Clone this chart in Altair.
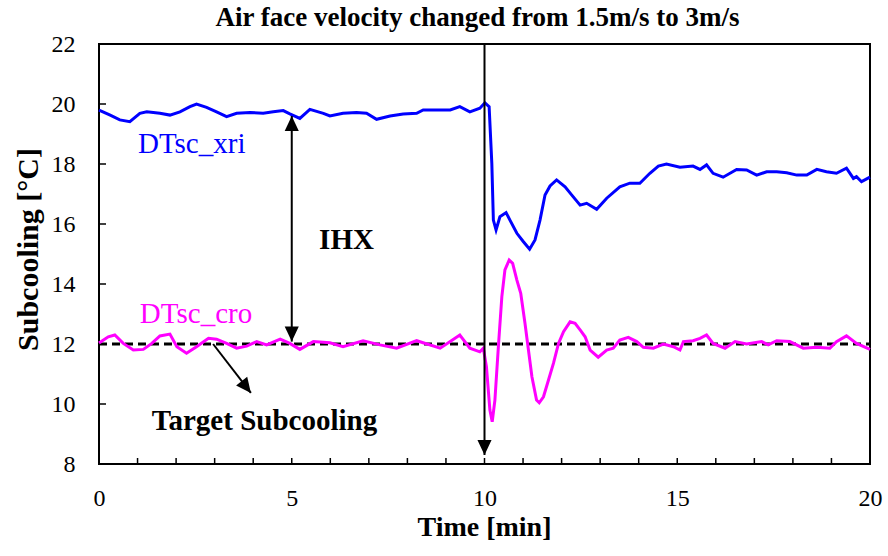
import altair as alt
import pandas as pd

# ---------------- data ----------------
blue_t = [0.0, 0.03, 0.29, 0.54, 0.80, 1.06, 1.24, 1.58, 1.84, 2.10, 2.36, 2.53, 2.79, 3.05, 3.31,
          3.57, 3.92, 4.26, 4.52, 4.78, 4.95, 5.21, 5.47, 5.82, 5.99, 6.33, 6.68, 6.94, 7.20, 7.55,
          7.89, 8.24, 8.41, 8.76, 9.11, 9.36, 9.62, 9.88, 10.01, 10.12, 10.19, 10.23, 10.30, 10.40, 10.56,
          10.66, 10.84, 11.01, 11.17, 11.31, 11.44, 11.57, 11.70, 11.87, 12.09, 12.26, 12.48, 12.65, 12.91, 13.17,
          13.51, 13.77, 14.03, 14.29, 14.51, 14.72, 15.07, 15.41, 15.59, 15.76, 15.93, 16.19, 16.54, 16.80, 17.06,
          17.32, 17.58, 17.84, 18.10, 18.36, 18.62, 18.87, 19.13, 19.39, 19.57, 19.65, 19.78, 20.0]
blue_v = [19.80, 19.78, 19.63, 19.47, 19.41, 19.69, 19.74, 19.69, 19.63, 19.74, 19.91, 20.0, 19.89, 19.74, 19.58,
          19.69, 19.72, 19.69, 19.74, 19.78, 19.67, 19.52, 19.82, 19.69, 19.60, 19.69, 19.72, 19.69, 19.49, 19.60,
          19.67, 19.69, 19.80, 19.80, 19.80, 19.91, 19.74, 19.86, 20.04, 19.91, 18.02, 16.13, 15.80, 16.24, 16.38,
          16.13, 15.69, 15.41, 15.16, 15.47, 16.13, 16.97, 17.27, 17.47, 17.24, 16.97, 16.63, 16.69, 16.49, 16.86,
          17.24, 17.36, 17.36, 17.69, 17.93, 18.00, 17.89, 17.93, 17.82, 17.97, 17.69, 17.56, 17.82, 17.80, 17.63,
          17.74, 17.74, 17.71, 17.63, 17.63, 17.82, 17.74, 17.69, 17.86, 17.52, 17.58, 17.41, 17.56]

mag_t = [0.0, 0.24, 0.41, 0.63, 0.89, 1.15, 1.37, 1.58, 1.84, 2.02, 2.27, 2.53, 2.84, 3.05, 3.31,
         3.57, 3.83, 4.09, 4.35, 4.70, 4.95, 5.21, 5.56, 5.99, 6.33, 6.85, 7.29, 7.72, 8.24, 8.85,
         9.11, 9.36, 9.62, 9.88, 9.97, 10.05, 10.14, 10.20, 10.27, 10.36, 10.45, 10.53, 10.64, 10.73, 10.84,
         10.94, 11.05, 11.14, 11.23, 11.35, 11.42, 11.53, 11.66, 11.79, 11.92, 12.05, 12.22, 12.35, 12.48, 12.61,
         12.74, 12.95, 13.17, 13.34, 13.51, 13.73, 13.95, 14.12, 14.38, 14.64, 14.90, 15.07, 15.16, 15.41, 15.59,
         15.76, 15.93, 16.24, 16.50, 16.80, 17.19, 17.36, 17.58, 17.92, 18.27, 18.62, 18.96, 19.13, 19.39, 19.65,
         20.0]
mag_v = [12.03, 12.24, 12.30, 12.02, 11.80, 11.82, 12.02, 12.27, 12.33, 11.91, 11.69, 11.91, 12.19, 12.16, 12.02,
         11.86, 11.93, 12.08, 11.97, 12.16, 12.02, 11.82, 12.08, 12.04, 11.91, 12.11, 11.97, 11.86, 12.11, 11.86,
         12.08, 12.30, 11.86, 11.74, 11.86, 11.24, 9.80, 9.41, 10.13, 11.91, 13.58, 14.47, 14.80, 14.69, 14.13,
         13.69, 12.69, 11.80, 10.91, 10.13, 10.04, 10.24, 10.80, 11.36, 12.02, 12.41, 12.74, 12.69, 12.47, 12.24,
         11.80, 11.56, 11.80, 11.86, 12.13, 12.22, 12.08, 11.89, 11.86, 12.00, 11.91, 11.80, 12.08, 12.11, 12.19,
         12.30, 12.02, 11.86, 12.08, 12.00, 12.08, 11.97, 12.11, 12.08, 11.86, 11.89, 11.86, 12.08, 12.27, 12.02,
         11.82]

target_value = 12.0

x_label_values = [0, 5, 10, 15, 20]
x_tick_values = list(range(0, 21))
y_label_values = [8, 10, 12, 14, 16, 18, 20, 22]

title_text = "Air face velocity changed from 1.5m/s to 3m/s"
x_title = "Time [min]"
y_title = "Subcooling [°C]"

# annotation texts (position in data units)
blue_label = ["DTsc_xri"]
blue_label_t = [1.01]
blue_label_v = [18.37]
mag_label = ["DTsc_cro"]
mag_label_t = [1.06]
mag_label_v = [12.71]
bold_labels = ["IHX", "Target Subcooling"]
bold_labels_t = [5.71, 1.37]
bold_labels_v = [15.17, 9.13]

# arrows: segments (start -> tip) in data units
arrow_t0 = [5.0, 10.0, 2.96]
arrow_v0 = [12.08, 22.0, 12.0]
arrow_t1 = [5.0, 10.0, 3.94]
arrow_v1 = [19.6, 8.3, 10.37]
head_t = [5.0, 5.0, 10.0, 3.94]
head_v = [19.6, 12.08, 8.3, 10.37]
head_angle = [0, 180, 180, 142]

# ---------------- chart ----------------
FONT = "Liberation Serif"
BLUE = "#0000FF"
MAGENTA = "#FF00FF"

blue_df = pd.DataFrame({"t": blue_t, "v": blue_v})
mag_df = pd.DataFrame({"t": mag_t, "v": mag_v})
target_df = pd.DataFrame({"t": [0], "t1": [20], "v": [target_value]})
arrow_df = pd.DataFrame({"t": arrow_t0, "v": arrow_v0, "t1": arrow_t1, "v1": arrow_v1})
head_df = pd.DataFrame({"t": head_t, "v": head_v, "a": head_angle})
blue_lab_df = pd.DataFrame({"t": blue_label_t, "v": blue_label_v, "s": blue_label})
mag_lab_df = pd.DataFrame({"t": mag_label_t, "v": mag_label_v, "s": mag_label})
bold_lab_df = pd.DataFrame({"t": bold_labels_t, "v": bold_labels_v, "s": bold_labels})
xtick_df = pd.DataFrame({"t": x_tick_values})
ytick_df = pd.DataFrame({"v": y_label_values})

xs = alt.Scale(domain=[0, 20], nice=False, zero=False)
ys = alt.Scale(domain=[8, 22], nice=False, zero=False)

x_axis = alt.Axis(orient="bottom", values=x_label_values, format="d", labelFont=FONT, labelFontSize=24,
                  labelColor="black", labelPadding=22, ticks=False, domain=False, grid=False,
                  title=x_title, titleFont=FONT, titleFontSize=28, titleFontWeight="bold",
                  titleColor="black", titleX=385, titleY=71, titleBaseline="alphabetic",
                  titleAlign="center", labelFlush=False)
y_axis = alt.Axis(orient="left", values=y_label_values, format="d", labelFont=FONT, labelFontSize=24,
                  labelColor="black", labelPadding=24, ticks=False, domain=False, grid=False,
                  title=y_title, titleFont=FONT, titleFontSize=30, titleFontWeight="bold",
                  titleColor="black", titleX=-71, titleY=205, titleAngle=-90,
                  titleBaseline="middle", titleAlign="center", labelFlush=False)

X = alt.X("t:Q", scale=xs, axis=x_axis)
Y = alt.Y("v:Q", scale=ys, axis=y_axis)

blue_line = alt.Chart(blue_df).mark_line(color=BLUE, strokeWidth=3).encode(x=X, y=Y)

# inward tick marks (vertical ticks on the bottom edge, horizontal ticks on the left edge)
x_ticks = alt.Chart(xtick_df).mark_tick(color="black", thickness=1.5, size=6, opacity=1,
                                        orient="vertical").encode(
    x=X, y=alt.value(417))
y_ticks = alt.Chart(ytick_df).mark_tick(color="black", thickness=1.5, size=7, opacity=1,
                                        orient="horizontal").encode(
    y=Y, x=alt.value(3.5))

target_line = alt.Chart(target_df).mark_rule(color="black", strokeWidth=3, strokeDash=[8, 5]).encode(
    x=X, x2="t1:Q", y=Y)

mag_line = alt.Chart(mag_df).mark_line(color=MAGENTA, strokeWidth=3).encode(x=X, y=Y)

arrows = alt.Chart(arrow_df).mark_rule(color="black", strokeWidth=2).encode(
    x=X, y=Y, x2="t1:Q", y2="v1:Q")

heads = alt.Chart(head_df).mark_point(shape="M0,0L-0.47,1L0.47,1Z", filled=True, color="black",
                                      opacity=1, size=900).encode(
    x=X, y=Y, angle=alt.Angle("a:Q", scale=None))

blue_text = alt.Chart(blue_lab_df).mark_text(font=FONT, fontSize=29, color=BLUE, align="left",
                                             baseline="alphabetic").encode(x=X, y=Y, text="s:N")
mag_text = alt.Chart(mag_lab_df).mark_text(font=FONT, fontSize=29, color=MAGENTA, align="left",
                                           baseline="alphabetic").encode(x=X, y=Y, text="s:N")
bold_text = alt.Chart(bold_lab_df).mark_text(font=FONT, fontSize=29, fontWeight="bold", color="black",
                                             align="left", baseline="alphabetic").encode(x=X, y=Y, text="s:N")

chart = alt.layer(
    blue_line, x_ticks, y_ticks, target_line, mag_line, arrows, heads, blue_text, mag_text, bold_text
).properties(
    width=771, height=420,
    autosize=alt.AutoSizeParams(type="none"),
    padding={"left": 99, "top": 44, "right": 18, "bottom": 92},
    title=alt.TitleParams(text=title_text, font=FONT, fontSize=27, fontWeight="bold", color="black",
                          anchor="middle", dx=-7, dy=8, offset=8),
    background="white",
).configure_view(stroke="black", strokeWidth=2)

chart.save("out.html", embed_options={"renderer": "svg", "actions": False})
